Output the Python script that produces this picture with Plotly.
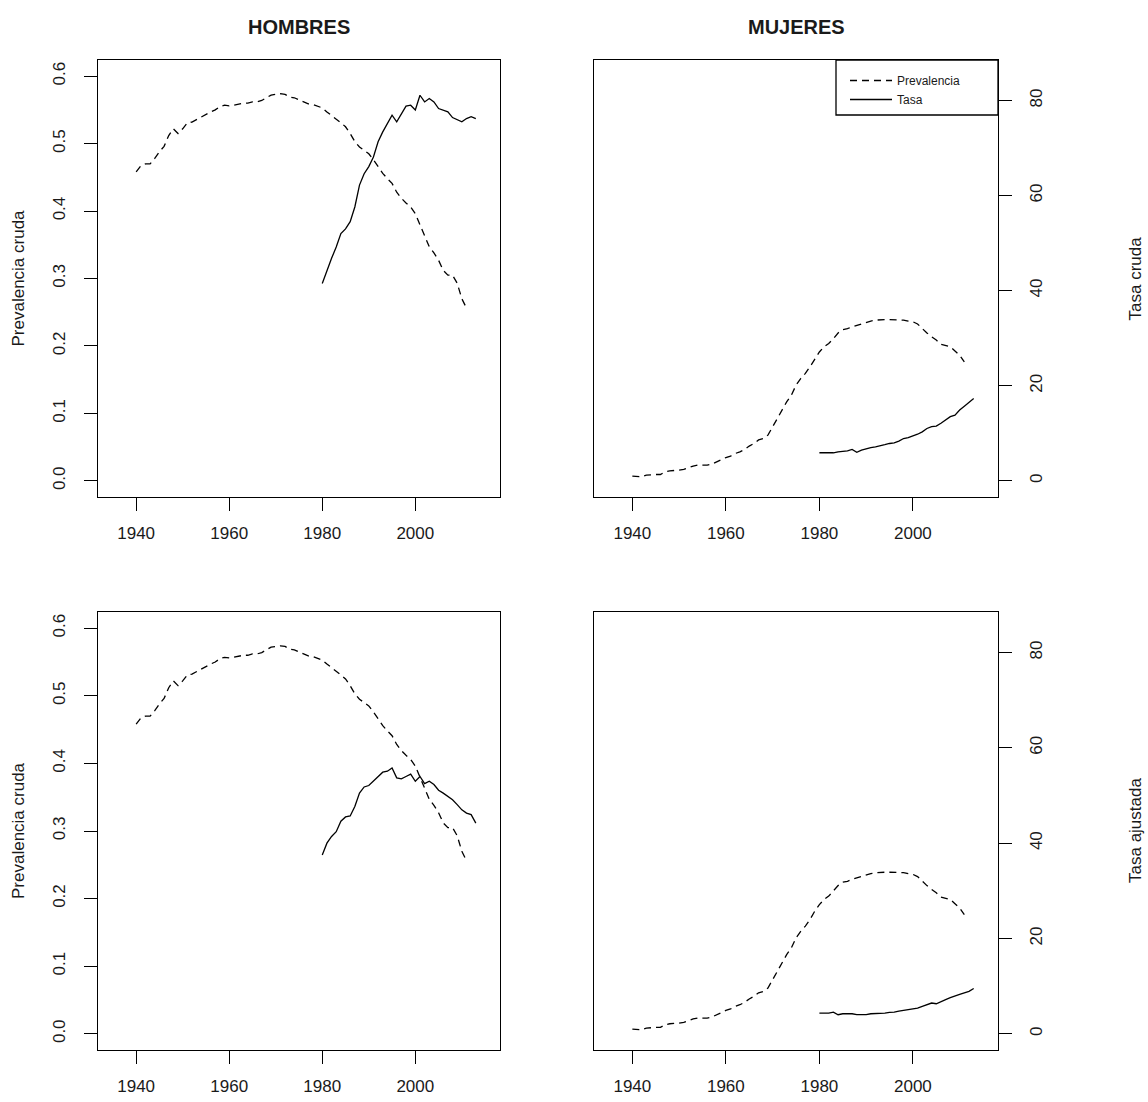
import plotly.graph_objects as go

# ---------------- data ----------------
years_prev = list(range(1940, 2012))
years_tasa = list(range(1980, 2014))

prev_hombres = [0.458, 0.467, 0.470, 0.470, 0.478, 0.488, 0.496, 0.512, 0.522, 0.515,
                0.522, 0.531, 0.532, 0.536, 0.540, 0.544, 0.547, 0.550, 0.555, 0.557,
                0.556, 0.557, 0.559, 0.560, 0.560, 0.562, 0.562, 0.564, 0.568, 0.572,
                0.573, 0.574, 0.573, 0.569, 0.568, 0.565, 0.563, 0.559, 0.558, 0.556,
                0.553, 0.547, 0.542, 0.536, 0.531, 0.525, 0.515, 0.503, 0.495, 0.490,
                0.485, 0.476, 0.466, 0.456, 0.448, 0.441, 0.428, 0.419, 0.412, 0.406,
                0.396, 0.379, 0.362, 0.347, 0.338, 0.327, 0.312, 0.305, 0.305, 0.293,
                0.270, 0.256]

prev_mujeres_tasa_units = [0.98, 0.98, 0.84, 1.2, 1.33, 1.33, 1.33, 1.9, 2.1, 2.1,
                           2.24, 2.4, 2.8, 3.1, 3.3, 3.3, 3.3, 3.5, 4.0, 4.35,
                           4.9, 5.2, 5.75, 6.1, 6.6, 7.3, 7.85, 8.6, 8.9, 9.6,
                           11.4, 13.1, 14.9, 16.6, 18.0, 20.1, 21.5, 22.6, 24.0, 25.7,
                           27.1, 28.2, 28.9, 29.9, 31.1, 31.8, 32.0, 32.4, 32.7, 33.1,
                           33.4, 33.6, 33.8, 33.9, 33.9, 33.9, 33.9, 33.9, 33.8, 33.6,
                           33.45, 33.0, 32.0, 31.1, 30.3, 29.6, 28.7, 28.5, 28.2, 27.3,
                           26.4, 25.0]
TASA_PER_PREV = 141.85
prev_mujeres = [round(v / TASA_PER_PREV, 4) for v in prev_mujeres_tasa_units]

tasa_cruda_hombres = [41.5, 44.3, 46.8, 49.2, 52.0, 53.0, 54.5, 57.6, 62.2, 64.6,
                      66.1, 68.1, 71.3, 73.4, 75.2, 76.9, 75.5, 77.3, 78.8, 79.0,
                      78.0, 81.1, 79.7, 80.4, 79.7, 78.3, 78.0, 77.6, 76.4, 75.9,
                      75.5, 76.2, 76.6, 76.2]
tasa_cruda_mujeres = [5.9, 5.9, 5.96, 5.9, 6.1, 6.24, 6.3, 6.6, 6.0, 6.45,
                      6.8, 7.0, 7.15, 7.3, 7.6, 7.85, 8.0, 8.35, 8.9, 9.1,
                      9.4, 9.8, 10.3, 11.0, 11.4, 11.5, 12.1, 12.8, 13.5, 13.8,
                      14.9, 15.7, 16.6, 17.3]
tasa_ajustada_hombres = [37.5, 40.0, 41.4, 42.4, 44.6, 45.5, 45.7, 47.7, 50.5, 51.8,
                         52.1, 53.0, 54.0, 54.9, 55.1, 55.8, 53.7, 53.5, 54.0, 54.5,
                         53.0, 54.0, 52.5, 53.0, 52.3, 51.1, 50.5, 49.8, 49.1, 48.1,
                         47.0, 46.3, 46.0, 44.2]
tasa_ajustada_mujeres = [4.34, 4.34, 4.34, 4.55, 4.0, 4.2, 4.2, 4.2, 4.0, 4.0,
                         4.0, 4.2, 4.2, 4.34, 4.34, 4.5, 4.55, 4.76, 4.9, 5.04,
                         5.2, 5.4, 5.74, 6.1, 6.45, 6.3, 6.8, 7.15, 7.57, 7.85,
                         8.27, 8.6, 8.9, 9.5]

x_ticks = [1940, 1960, 1980, 2000]
prev_ticks = [0.0, 0.1, 0.2, 0.3, 0.4, 0.5, 0.6]
tasa_ticks = [0, 20, 40, 60, 80]
col_titles = ["HOMBRES", "MUJERES"]
prev_label = "Prevalencia cruda"
tasa_labels = ["Tasa cruda", "Tasa ajustada"]
legend_names = ["Prevalencia", "Tasa"]

# ---------------- layout geometry ----------------
W, H = 1148, 1102
FONT = "Liberation Sans, Arial, sans-serif"
TXT = "#1a1a1a"

def px_x(p):
    return p / W

def px_y(p):
    return 1 - p / H

col_dom = [[px_x(98), px_x(500)], [px_x(594), px_x(998)]]
row_dom = [[px_y(497), px_y(60)], [px_y(1050), px_y(612)]]

xr = [1931.8, 2018.2]
prev_r = [-0.024, 0.624]
tasa_r = [-0.04 * 0.6 * TASA_PER_PREV, 1.04 * 0.6 * TASA_PER_PREV]

fig = go.Figure()

dash_style = "7px,5px"
line_w = 1.3
TL = 13

panels = [
    (0, 0, prev_hombres, tasa_cruda_hombres),
    (0, 1, prev_mujeres, tasa_cruda_mujeres),
    (1, 0, prev_hombres, tasa_ajustada_hombres),
    (1, 1, prev_mujeres, tasa_ajustada_mujeres),
]

for i, (r, c, prev, tasa) in enumerate(panels):
    n = i + 1
    xa = "x" if n == 1 else f"x{n}"
    ya = "y" if n == 1 else f"y{n}"
    ya2 = f"y{n + 4}"
    show_leg = (r == 0 and c == 1)
    fig.add_trace(go.Scatter(x=years_prev, y=prev, mode="lines", xaxis=xa, yaxis=ya,
                             line=dict(color="black", width=line_w, dash=dash_style),
                             name=legend_names[0], showlegend=show_leg))
    fig.add_trace(go.Scatter(x=years_tasa, y=tasa, mode="lines", xaxis=xa, yaxis=ya2,
                             line=dict(color="black", width=line_w),
                             name=legend_names[1], showlegend=show_leg))

    xkey = "xaxis" if n == 1 else f"xaxis{n}"
    ykey = "yaxis" if n == 1 else f"yaxis{n}"
    y2key = f"yaxis{n + 4}"

    fig.layout[xkey] = dict(domain=col_dom[c], anchor=ya, range=xr,
                            tickvals=x_ticks, ticks="outside", ticklen=TL,
                            tickwidth=1.2, tickcolor="black",
                            showline=True, mirror=True, linecolor="black", linewidth=1.3,
                            showgrid=False, zeroline=False,
                            ticklabelstandoff=7,
                            tickfont=dict(family=FONT, size=17, color=TXT))
    if c == 0:
        fig.layout[ykey] = dict(domain=row_dom[r], anchor=xa, range=prev_r,
                                tickvals=prev_ticks, ticktext=[f"{v:.1f}" for v in prev_ticks],
                                ticks="outside", ticklen=TL, tickwidth=1.2, tickcolor="black",
                                tickangle=-90, ticklabelstandoff=12,
                                showline=True, mirror=True, linecolor="black", linewidth=1.3,
                                showgrid=False, zeroline=False,
                                tickfont=dict(family=FONT, size=17, color=TXT))
        fig.layout[y2key] = dict(overlaying=ya, anchor=xa, side="right", range=tasa_r,
                                 visible=False, showgrid=False, zeroline=False)
    else:
        fig.layout[ykey] = dict(domain=row_dom[r], anchor=xa, range=prev_r,
                                ticks="", showticklabels=False,
                                showline=True, mirror=True, linecolor="black", linewidth=1.3,
                                showgrid=False, zeroline=False)
        fig.layout[y2key] = dict(overlaying=ya, anchor=xa, side="right", range=tasa_r,
                                 tickvals=tasa_ticks, ticks="outside", ticklen=TL,
                                 tickwidth=1.2, tickcolor="black",
                                 tickangle=-90, ticklabelstandoff=10,
                                 showline=False, showgrid=False, zeroline=False,
                                 tickfont=dict(family=FONT, size=17, color=TXT))

annotations = []
for c, t in enumerate(col_titles):
    annotations.append(dict(text=f"<b>{t}</b>", x=(col_dom[c][0] + col_dom[c][1]) / 2,
                            y=px_y(27), xref="paper", yref="paper", showarrow=False,
                            xanchor="center", yanchor="middle",
                            font=dict(family=FONT, size=20, color=TXT)))
for r in range(2):
    ymid = (row_dom[r][0] + row_dom[r][1]) / 2
    annotations.append(dict(text=prev_label, x=px_x(18), y=ymid, xref="paper", yref="paper",
                            showarrow=False, textangle=-90, xanchor="center", yanchor="middle",
                            font=dict(family=FONT, size=17, color=TXT)))
    annotations.append(dict(text=tasa_labels[r], x=px_x(1135), y=ymid, xref="paper", yref="paper",
                            showarrow=False, textangle=-90, xanchor="center", yanchor="middle",
                            font=dict(family=FONT, size=17, color=TXT)))

# legend frame (decoration)
shapes = [dict(type="rect", xref="paper", yref="paper",
               x0=px_x(836), x1=col_dom[1][1], y0=px_y(115), y1=row_dom[0][1],
               line=dict(color="black", width=1.3), fillcolor="white", layer="above")]

fig.update_layout(
    width=W, height=H, margin=dict(l=0, r=0, t=0, b=0),
    paper_bgcolor="white", plot_bgcolor="white",
    annotations=annotations, shapes=shapes,
    showlegend=True,
    legend=dict(x=px_x(845), y=px_y(66), xanchor="left", yanchor="top",
                bgcolor="rgba(0,0,0,0)", borderwidth=0, itemwidth=42,
                font=dict(family=FONT, size=12, color=TXT), tracegroupgap=0),
)

fig.write_html("out.html")
